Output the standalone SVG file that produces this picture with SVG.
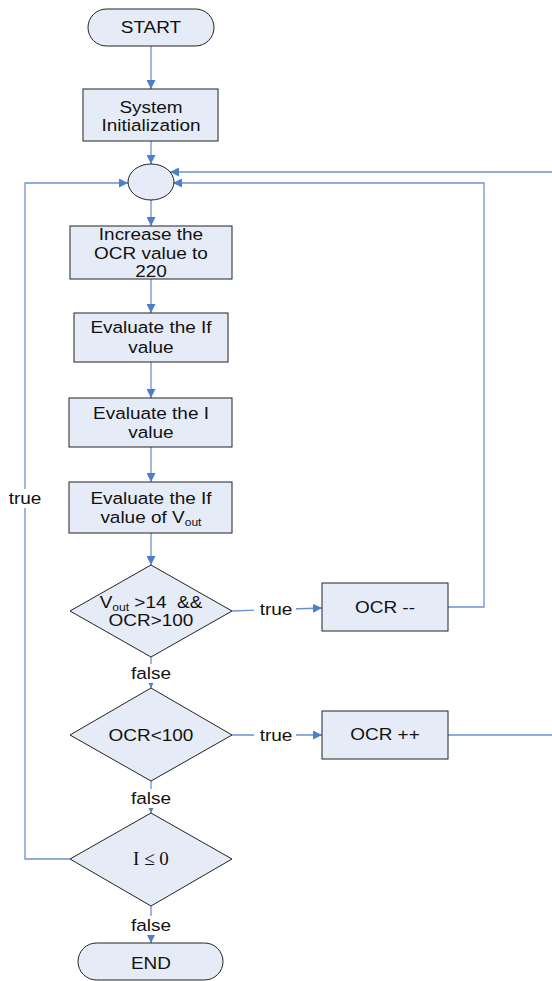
<svg xmlns="http://www.w3.org/2000/svg" width="552" height="981" viewBox="0 0 552 981">
<defs>
<marker id="arr" viewBox="0 0 10 10" refX="10" refY="5" markerWidth="9" markerHeight="9" markerUnits="userSpaceOnUse" orient="auto">
<path d="M0,0 L10,5 L0,10 z" fill="#4F7EC8"/>
</marker>
<style>
.n{fill:#E6ECF7;stroke:#222;stroke-width:1}
.t{font-family:"Liberation Sans",Arial,sans-serif;font-size:16.5px;fill:#111;text-anchor:middle;transform:scaleX(1.15);transform-box:fill-box;transform-origin:center}
.s{font-family:"Liberation Serif","Times New Roman",serif;font-size:19px;fill:#111;text-anchor:middle}
.sub{font-size:10.5px}
.c{fill:none;stroke:#6A92D0;stroke-width:1.3}
.a{marker-end:url(#arr)}
.bg{fill:#fff}
</style>
</defs>
<rect width="552" height="981" fill="#fff"/>
<g id="connectors">
<path class="c a" d="M151,46 V89"/>
<path class="c a" d="M151,141 V164"/>
<path class="c a" d="M151,200 V226"/>
<path class="c a" d="M151,279 V313"/>
<path class="c a" d="M151,362 V398"/>
<path class="c a" d="M151,447 V482"/>
<path class="c a" d="M151,533 V565"/>
<path class="c a" d="M232,611 L322,608"/>
<path class="c a" d="M151,657 V688"/>
<path class="c a" d="M232,735 H322"/>
<path class="c a" d="M151,781 V813"/>
<path class="c a" d="M151,906 V943"/>
<path class="c a" d="M70,859 H25 V183 H128"/>
<path class="c a" d="M448,607 H484 V183 H173"/>
<path class="c a" d="M448,735 H554 V172 H170"/>
<rect class="bg" x="254" y="600" width="42" height="19"/>
<text class="t" x="276" y="615">true</text>
<rect class="bg" x="128" y="664" width="46" height="19"/>
<text class="t" x="151" y="679">false</text>
<rect class="bg" x="254" y="726" width="42" height="19"/>
<text class="t" x="276" y="741">true</text>
<rect class="bg" x="128" y="789" width="46" height="19"/>
<text class="t" x="151" y="804">false</text>
<rect class="bg" x="128" y="916" width="46" height="19"/>
<text class="t" x="151" y="931">false</text>
<rect class="bg" x="5" y="489" width="40" height="19"/>
<text class="t" x="25" y="504">true</text>
</g>
<g id="start">
<rect class="n" x="88" y="9" width="126" height="37" rx="18.5"/>
<text class="t" x="151" y="33">START</text>
</g>
<g id="init">
<rect class="n" x="83" y="89" width="135" height="52"/>
<text class="t" x="151" y="113">System</text>
<text class="t" x="151" y="131">Initialization</text>
</g>
<g id="join">
<ellipse class="n" cx="151" cy="182" rx="23" ry="18"/>
</g>
<g id="increase">
<rect class="n" x="70" y="226" width="162" height="53"/>
<text class="t" x="151" y="240">Increase the</text>
<text class="t" x="151" y="259">OCR value to</text>
<text class="t" x="151" y="277">220</text>
</g>
<g id="evalIf">
<rect class="n" x="74" y="313" width="154" height="49"/>
<text class="t" x="151" y="333">Evaluate the If</text>
<text class="t" x="151" y="353">value</text>
</g>
<g id="evalI">
<rect class="n" x="69" y="398" width="163" height="49"/>
<text class="t" x="151" y="419">Evaluate the I</text>
<text class="t" x="151" y="438">value</text>
</g>
<g id="evalVout">
<rect class="n" x="69" y="482" width="163" height="51"/>
<text class="t" x="151" y="504">Evaluate the If</text>
<text class="t" x="151" y="523">value of V<tspan class="sub" dy="3">out</tspan></text>
</g>
<g id="cond1">
<polygon class="n" points="151,565 232,611 151,657 70,611"/>
<text class="t" x="151" y="608">V<tspan class="sub" dy="3">out</tspan><tspan dy="-3"> &gt;14 &#160;&amp;&amp;</tspan></text>
<text class="t" x="151" y="626">OCR&gt;100</text>
</g>
<g id="ocrDec">
<rect class="n" x="322" y="583" width="126" height="48"/>
<text class="t" x="385" y="613">OCR --</text>
</g>
<g id="cond2">
<polygon class="n" points="151,688 232,735 151,781 70,735"/>
<text class="t" x="151" y="741">OCR&lt;100</text>
</g>
<g id="ocrInc">
<rect class="n" x="322" y="711" width="126" height="48"/>
<text class="t" x="385" y="740">OCR ++</text>
</g>
<g id="cond3">
<polygon class="n" points="151,813 232,859 151,906 70,859"/>
<text class="s" x="151" y="865">I ≤ 0</text>
</g>
<g id="end">
<rect class="n" x="78" y="943" width="145" height="37" rx="18.5"/>
<text class="t" x="151" y="969">END</text>
</g>
</svg>
